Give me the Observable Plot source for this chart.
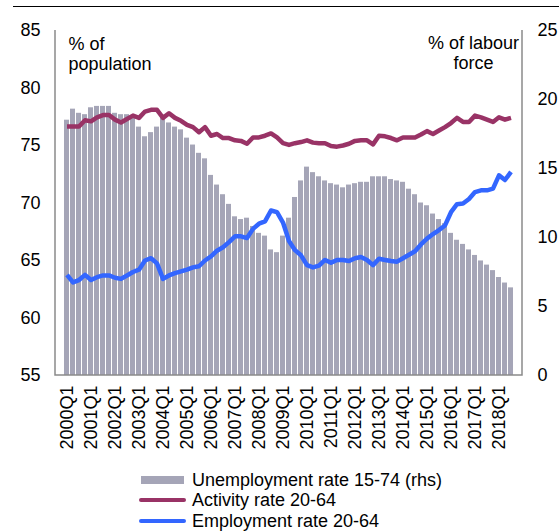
<!DOCTYPE html>
<html>
<head>
<meta charset="utf-8">
<script src="https://cdn.jsdelivr.net/npm/d3@7"></script>
<script src="https://cdn.jsdelivr.net/npm/@observablehq/plot@0.6"></script>
<style>
  html, body { margin: 0; padding: 0; background: #fff; overflow: hidden; }
  #wrap { position: relative; width: 559px; height: 531px; font-family: "Liberation Sans", Arial, sans-serif; }
  #topline { position: absolute; left: 13px; top: 6px; width: 546px; height: 0; border-top: 1.5px solid #000; }
  #legend { position: absolute; left: 0; top: 465px; width: 559px; height: 66px; font-size: 18px; color: #000; }
  #legend .t { position: absolute; left: 192px; line-height: 20px; white-space: nowrap; }
  #legend .sw { position: absolute; }
</style>
</head>
<body>
<div id="wrap">
  <div id="chart"></div>
  <div id="topline"></div>
  <div id="legend"></div>
</div>
<script>
// ---- categories ----
const years = [2000,2001,2002,2003,2004,2005,2006,2007,2008,2009,2010,2011,2012,2013,2014,2015,2016,2017,2018];
const qnames = ["Q1","Q2","Q3","Q4"];
const quarters = years.flatMap(y => qnames.map(q => y + q)).slice(0, 75); // 2000Q1 .. 2018Q3

// ---- series ----
// Unemployment rate 15-74, % of labour force (right axis)
const unemployment = [
  18.5, 19.3, 19.0, 18.9, 19.4, 19.5, 19.5, 19.5, 19.0, 18.9, 18.9, 18.7,
  18.0, 17.3, 17.6, 18.0, 18.7, 18.3, 18.0, 17.8, 17.2, 16.7, 16.1, 15.7,
  14.5, 13.8, 13.1, 12.4, 11.5, 11.3, 11.4, 10.8, 10.3, 10.1, 9.1, 8.9,
  10.1, 11.4, 12.9, 14.1, 15.1, 14.7, 14.4, 14.1, 13.9, 13.8, 13.6, 13.8,
  13.9, 14.0, 14.0, 14.4, 14.4, 14.4, 14.2, 14.1, 14.0, 13.5, 13.1, 12.5,
  12.3, 11.7, 11.3, 11.0, 10.3, 9.8, 9.5, 9.1, 8.7, 8.3, 8.0, 7.6,
  7.1, 6.7, 6.35
];
// Activity rate 20-64, % of population (left axis)
const activity = [
  76.65, 76.65, 76.65, 77.2, 77.1, 77.45, 77.65, 77.65, 77.25, 77.0, 77.3, 77.6,
  77.4, 77.95, 78.1, 78.1, 77.4, 77.8, 77.4, 77.15, 76.8, 76.6, 76.15, 76.6,
  75.85, 76.0, 75.65, 75.65, 75.45, 75.4, 75.15, 75.7, 75.7, 75.85, 76.05, 75.7,
  75.2, 75.05, 75.2, 75.3, 75.45, 75.25, 75.2, 75.2, 74.95, 74.9, 75.0, 75.15,
  75.4, 75.45, 75.45, 75.1, 75.85, 75.8, 75.65, 75.45, 75.7, 75.7, 75.7, 75.95,
  76.25, 76.0, 76.3, 76.6, 76.95, 77.4, 77.05, 77.05, 77.6, 77.45, 77.25, 77.05,
  77.45, 77.25, 77.4
];
// Employment rate 20-64, % of population (left axis)
const employment = [
  63.75, 63.1, 63.3, 63.75, 63.3, 63.55, 63.7, 63.7, 63.5, 63.4, 63.7, 64.0,
  64.2, 65.0, 65.2, 64.75, 63.4, 63.7, 63.9, 64.05, 64.2, 64.4, 64.5, 65.0,
  65.35, 65.85, 66.15, 66.6, 67.1, 67.1, 66.95, 67.75, 68.2, 68.4, 69.35, 69.2,
  68.3, 66.7, 65.9, 65.45, 64.6, 64.4, 64.55, 65.05, 64.8, 65.05, 65.05, 64.95,
  65.2, 65.3, 65.05, 64.6, 65.15, 65.05, 64.95, 64.9, 65.2, 65.5, 65.8, 66.4,
  66.9, 67.3, 67.65, 68.05, 69.2, 69.9, 69.95, 70.35, 70.95, 71.1, 71.1, 71.25,
  72.4, 72.0, 72.7
];

// ---- tick labels ----
const leftTicks = [55, 60, 65, 70, 75, 80, 85];
const rightTicks = [0, 5, 10, 15, 20, 25];
const xTicks = quarters.filter(q => q.endsWith("Q1"));

// ---- styling ----
const colors = { unemployment: "#a5a5b7", activity: "#993366", employment: "#3366ff" };
const legendItems = [
  { label: "Unemployment rate 15-74 (rhs)", key: "unemployment", kind: "bar" },
  { label: "Activity rate 20-64", key: "activity", kind: "line" },
  { label: "Employment rate 20-64", key: "employment", kind: "line" }
];

// right axis (0..25) mapped onto left axis domain (55..85)
const toLeft = u => 55 + u * 30 / 25;
const fromLeft = v => Math.round((v - 55) * 25 / 30);

const rows = quarters.map((q, i) => ({ q, u: unemployment[i], a: activity[i], e: employment[i] }));

const W = 559, H = 465;
const frameLines = (index, scales, values, dims) => {
  const { width, height, marginLeft, marginRight, marginTop, marginBottom } = dims;
  const l = marginLeft, r = width - marginRight, t = marginTop, b = height - marginBottom;
  return d3.create("svg:path")
    .attr("d", `M${l},${t}V${b}H${r}V${t}`)
    .attr("fill", "none")
    .attr("stroke", "#8a8a8a")
    .attr("stroke-width", 1.5)
    .node();
};

const chart = Plot.plot({
  width: W,
  height: H,
  marginLeft: 55,
  marginRight: 37,
  marginTop: 30,
  marginBottom: 90,
  style: { fontFamily: "'Liberation Sans', Arial, sans-serif", fontSize: "18px", color: "#000", background: "#fff", overflow: "visible" },
  x: { type: "band", domain: quarters, paddingInner: 0.25, paddingOuter: 0.125, axis: null, label: null },
  y: { domain: [55, 85], axis: null, label: null },
  marks: [
    Plot.barY(rows, { x: "q", y1: () => 55, y2: d => toLeft(d.u), fill: colors.unemployment }),
    Plot.line(rows, { x: "q", y: "a", stroke: colors.activity, strokeWidth: 4.5, strokeLinecap: "butt", strokeLinejoin: "round" }),
    Plot.line(rows, { x: "q", y: "e", stroke: colors.employment, strokeWidth: 4.5, strokeLinecap: "butt", strokeLinejoin: "round" }),
    frameLines,
    Plot.axisY({ anchor: "left", ticks: leftTicks, tickSize: 0, tickPadding: 15, label: null, fontSize: 18 }),
    Plot.axisY({ anchor: "right", ticks: rightTicks.map(toLeft), tickFormat: fromLeft, tickSize: 0, tickPadding: 15, label: null, fontSize: 18 }),
    Plot.axisX({ anchor: "bottom", ticks: xTicks, tickRotate: -90, tickSize: 0, tickPadding: 10, label: null, fontSize: 18 }),
    Plot.text(["% of\npopulation"], { frameAnchor: "top-left", dx: 13, dy: 5, textAnchor: "start", lineHeight: 1.11, fontSize: 18, fill: "#000" }),
    Plot.text(["% of labour\nforce"], { frameAnchor: "top-right", dx: -49, dy: 4, textAnchor: "middle", lineHeight: 1.11, fontSize: 18, fill: "#000" })
  ]
});
document.getElementById("chart").appendChild(chart);

// ---- legend ----
const legend = document.getElementById("legend");
const rowTop = [5, 25, 46];
legendItems.forEach((it, i) => {
  const center = rowTop[i] + 10;
  const sw = document.createElement("div");
  sw.className = "sw";
  if (it.kind === "bar") {
    Object.assign(sw.style, { left: "141px", top: (center - 4) + "px", width: "43px", height: "8px", background: colors[it.key] });
  } else {
    Object.assign(sw.style, { left: "139px", top: (center - 2) + "px", width: "47px", height: "4px", background: colors[it.key], borderRadius: "2px" });
  }
  legend.appendChild(sw);
  const t = document.createElement("div");
  t.className = "t";
  t.style.top = rowTop[i] + "px";
  t.textContent = it.label;
  legend.appendChild(t);
});
</script>
</body>
</html>
